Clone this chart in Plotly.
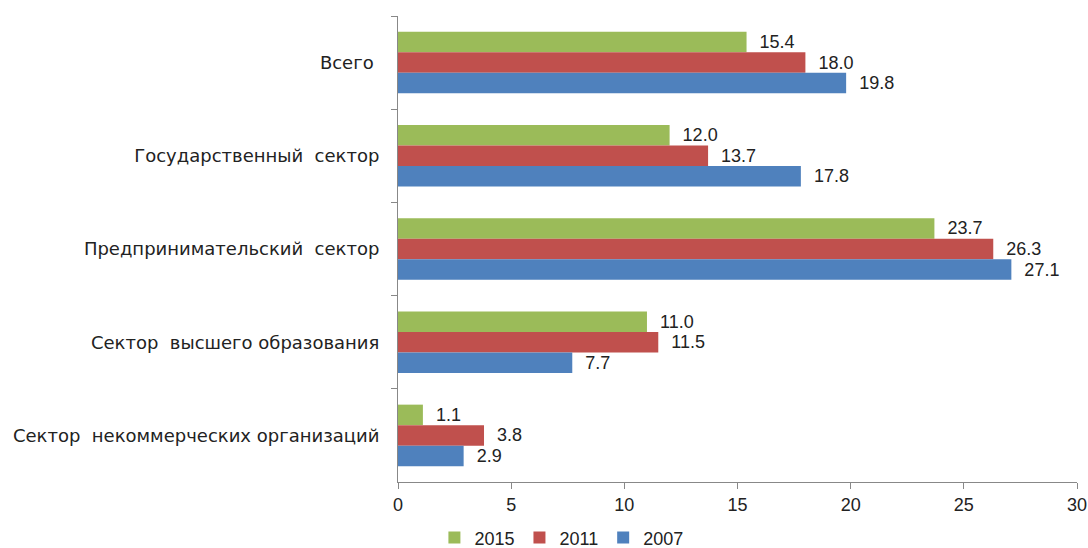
import plotly.graph_objects as go

categories = ["Всего ", "Государственный  сектор", "Предпринимательский  сектор",
              "Сектор  высшего образования", "Сектор  некоммерческих организаций"]
years = ["2015", "2011", "2007"]
v2015 = [15.4, 12.0, 23.7, 11.0, 1.1]
v2011 = [18.0, 13.7, 26.3, 11.5, 3.8]
v2007 = [19.8, 17.8, 27.1, 7.7, 2.9]
colors = ["#9BBB59", "#C0504D", "#4F81BD"]

cats = [c.replace("  ", " \u00a0") for c in categories]

FONT = "Liberation Sans, Arial"
fig = go.Figure()
for name, vals, col in zip(years, [v2015, v2011, v2007], colors):
    fig.add_trace(go.Bar(
        y=cats, x=vals, name=name, orientation="h",
        marker=dict(color=col, line=dict(width=0)),
        texttemplate="\u00a0\u00a0%{x:.1f}", textposition="outside",
        textfont=dict(size=18, color="#222222", family=FONT),
        cliponaxis=False,
    ))

fig.update_layout(
    width=1088, height=548,
    margin=dict(l=398, r=11, t=16, b=66, autoexpand=False),
    paper_bgcolor="white", plot_bgcolor="white",
    barmode="group", bargap=0.34, bargroupgap=0,
    font=dict(family=FONT, size=18, color="#222222"),
    showlegend=True,
    legend=dict(orientation="h", xref="container", x=0.516, xanchor="center",
                yref="paper", y=-0.12, yanchor="middle",
                font=dict(size=18), traceorder="normal"),
)
fig.update_xaxes(range=[0, 30], dtick=5, showgrid=False, zeroline=False,
                 showline=True, linecolor="#888888", linewidth=1,
                 ticks="outside", ticklen=6, tickcolor="#888888",
                 automargin=False, tickfont=dict(size=18))
fig.update_yaxes(autorange="reversed", showgrid=False, showline=True,
                 linecolor="#888888", linewidth=1, ticks="outside",
                 tickson="boundaries", ticklen=6, tickcolor="#888888",
                 automargin=False, ticklabelstandoff=14,
                 tickfont=dict(size=18, family="DejaVu Sans", color="#222222"))

fig.write_html("out.html")
